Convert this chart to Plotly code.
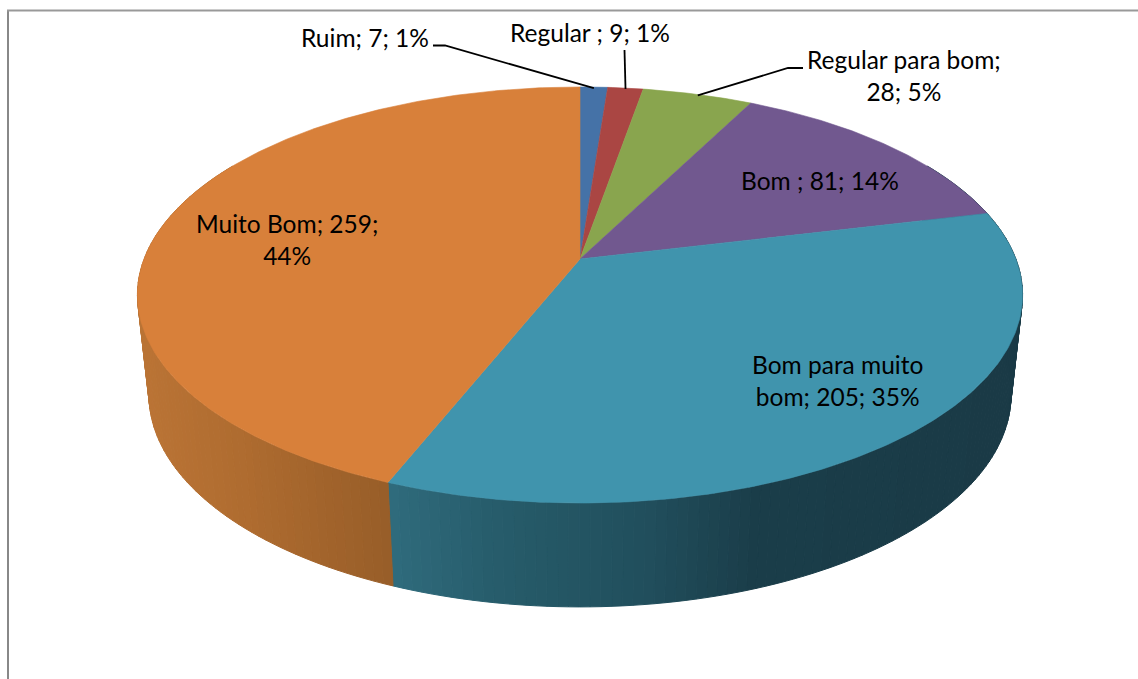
import numpy as np
import plotly.graph_objects as go

categories = ["Ruim", "Regular ", "Regular para bom", "Bom ", "Bom para muito bom", "Muito Bom"]
values = [7, 9, 28, 81, 205, 259]
colors = ["#4572A7", "#AA4643", "#89A54E", "#71588F", "#4094AD", "#D8803A"]

label_text = ["Ruim; 7; 1%", "Regular ; 9; 1%", "Regular para bom;<br>28; 5%", "Bom ; 81; 14%",
              "Bom para muito<br>bom; 205; 35%", "Muito Bom; 259;<br>44%"]
label_x = [364.5, 590, 904, 820, 837, 287]
label_y = [37, 32.5, 75, 180, 380, 239]

# wall shading by screen x
wall_x = {4: [392, 500, 650, 750, 1030], 5: [140, 250, 392]}
wall_c = {4: [(48, 108, 125), (39, 92, 107), (33, 78, 92), (27, 62, 74), (26, 58, 70)],
          5: [(188, 117, 54), (175, 108, 48), (152, 94, 41)]}

CX, K = 580.0, 0.173
TOP = dict(a=435.9, b=201.8, cy=259.0)
BOT = dict(a=424.5, b=205.6, cy=358.3)


def proj(theta, p):
    u, v = np.sin(theta), np.cos(theta)
    w = 1 + K * v
    return CX + p["a"] * u / w, p["cy"] - p["b"] * v / w


total = sum(values)
edges = np.concatenate([[0], np.cumsum(values)]) / total * 2 * np.pi
fig = go.Figure()


def poly(x, y, color, w=0.6):
    fig.add_trace(go.Scatter(x=x, y=y, mode="lines", fill="toself", fillcolor=color,
                             line=dict(color=color, width=w), hoverinfo="skip", showlegend=False))


# side walls (front part of the two large slices)
for idx, lo, hi in [(4, np.radians(60), edges[5]), (5, edges[5], np.radians(300))]:
    n = max(2, int((hi - lo) / np.radians(1.2)))
    ts = np.linspace(lo, hi, n + 1)
    for t0, t1 in zip(ts[:-1], ts[1:]):
        tt = np.linspace(t0, t1, 3)
        xt, yt = proj(tt, TOP)
        xb, yb = proj(tt, BOT)
        xm = float(np.mean(xb))
        c = [int(np.interp(xm, wall_x[idx], [q[i] for q in wall_c[idx]])) for i in range(3)]
        col = "rgb(%d,%d,%d)" % tuple(c)
        poly(list(xt) + list(xb[::-1]) + [xt[0]], list(yt) + list(yb[::-1]) + [yt[0]], col, 1)

# top face
for i in range(len(values)):
    tt = np.linspace(edges[i], edges[i + 1], max(4, int((edges[i + 1] - edges[i]) / 0.01)))
    x, y = proj(tt, TOP)
    poly([CX] + list(x) + [CX], [TOP["cy"]] + list(y) + [TOP["cy"]], colors[i])

# leader lines, from label to the middle of the slice edge
leader_start = {0: [(433, 45.5), (445, 45.5)], 1: [(624.5, 50)], 2: [(803, 68), (788, 68)]}
for i, pts in leader_start.items():
    mx, my = proj((edges[i] + edges[i + 1]) / 2, TOP)
    fig.add_trace(go.Scatter(x=[p[0] for p in pts] + [float(mx)], y=[p[1] for p in pts] + [float(my) + 1],
                             mode="lines", line=dict(color="#000000", width=1.8),
                             hoverinfo="skip", showlegend=False))

for t, x, y in zip(label_text, label_x, label_y):
    fig.add_annotation(x=x, y=y, text=t, showarrow=False, xanchor="center", yanchor="middle",
                       font=dict(family="Lato", size=24.5, color="#000000"), align="center")

fig.add_shape(type="line", x0=8, x1=8, y0=10.5, y1=679, line=dict(color="#888888", width=2))
fig.add_shape(type="line", x0=7, x1=1138, y0=10.5, y1=10.5, line=dict(color="#999999", width=2))

fig.update_layout(width=1138, height=679, margin=dict(l=0, r=0, t=0, b=0),
                  paper_bgcolor="white", plot_bgcolor="white", showlegend=False,
                  xaxis=dict(range=[0, 1138], visible=False, fixedrange=True),
                  yaxis=dict(range=[679, 0], visible=False, fixedrange=True))
fig.write_html("out.html", config={"displayModeBar": False},
               post_script="document.body.style.margin='0';document.body.style.overflow='hidden';")
